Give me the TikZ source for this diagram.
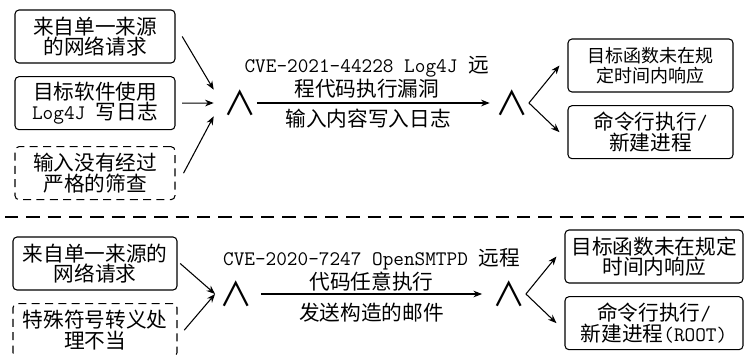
\documentclass[tikz,border=0pt]{standalone}
\usepackage{fontspec}
\setmainfont{Noto Sans CJK SC}
\usetikzlibrary{arrows.meta, positioning}
\tikzstyle{cause} = [rectangle, rounded corners=3pt, minimum width=120pt, minimum height=39.75pt, inner sep=1pt, text centered, align=center, draw=black, line width=0.8pt]
\tikzstyle{weak} = [cause, dash pattern=on 6pt off 4pt]
\tikzstyle{effect} = [cause, minimum width=123.75pt]
\tikzstyle{andgate} = [inner sep=0pt, minimum width=18pt, minimum height=19.5pt, font=\fontsize{25pt}{25pt}\selectfont]
\tikzstyle{arrow} = [line width=0.8pt,->,>={Stealth[length=6.5pt,width=5pt]}]
\begin{document}
\begin{tikzpicture}[x=0.75pt, y=-0.75pt, node distance=50pt, font=\fontsize{15.5pt}{15.5pt}\selectfont]
	\useasboundingbox (0,0) rectangle (745,354);
	
		% Log4J case
		\node (srcA) [cause] at (95,36.5) {来自单一来源\\的网络请求};
		\node (srcB) [cause, below of=srcA] {目标软件使用\\\texttt{Log4J }写日志};
		\node (srcC) [weak, below of=srcB, yshift=-2.5pt] {输入没有经过\\严格的筛查};
		\node (andA) [andgate] at (240,103) {∧};
		\node (andB) [andgate] at (512,103) {∧};
		\node (resA) [effect, font=\fontsize{13.5pt}{15pt}\selectfont] at (650.5,65.5) {目标函数未在规\\定时间内响应};
		\node (resB) [effect, below of=resA] {命令行执行\texttt{/}\\新建进程};
		
		% OpenSMTPD case
		\node (srcD) [cause, minimum width=123pt] at (95,263.5) {来自单一来源的\\网络请求};
		\node (srcE) [weak, minimum width=123pt, below of=srcD] {特殊符号转义处\\理不当};
		\node (andC) [andgate] at (236,294) {∧};
		\node (andD) [andgate] at (509,294) {∧};
		\node (resC) [effect, minimum width=133.5pt] at (654,256.5) {目标函数未在规定\\时间内响应};
		\node (resD) [effect, minimum width=133.5pt, below of=resC] {命令行执行\texttt{/}\\新建进程\texttt{(ROOT)}};
		
		% separator
		\draw [line width=0.8pt, dash pattern=on 10pt off 6pt] (5,217) -- (745,217);
		
		%Draw the arrows
		\draw [arrow] ([xshift=5pt]srcA.east) -- ([xshift=-7pt]andA.north west);
		\draw [arrow] ([xshift=5pt]srcB.east) -- ([xshift=-7pt]andA.west);
		\draw [arrow] ([xshift=6pt]srcC.east) -- ([xshift=-7pt]andA.south west);
		\draw [arrow] (andA.east) -- node[above, align=center, xshift=-5pt] {\texttt{CVE-2021-44228 Log4J }远\\程代码执行漏洞} node[below, xshift=-4pt, yshift=-1pt] {输入内容写入日志} ([xshift=-4pt]andB.west);
		\draw [arrow] (andB.east) -- ([xshift=-6pt]resA.west);
		\draw [arrow] (andB.east) -- ([xshift=-6pt]resB.west);
		
		\draw [arrow] ([xshift=2pt]srcD.east) -- ([xshift=-3pt]andC.west);
		\draw [arrow] ([xshift=5pt]srcE.east) -- ([xshift=-3pt]andC.west);
		\draw [arrow] ([xshift=6pt]andC.east) -- node[above, align=center, yshift=-1.5pt] {\texttt{CVE-2020-7247 OpenSMTPD }远程\\代码任意执行} node[below, yshift=-3pt] {发送构造的邮件} ([xshift=-7.5pt]andD.west);
		\draw [arrow] (andD.east) -- ([xshift=-6pt]resC.west);
		\draw [arrow] (andD.east) -- ([xshift=-6pt]resD.west);
	
	\end{tikzpicture}
\end{document}
